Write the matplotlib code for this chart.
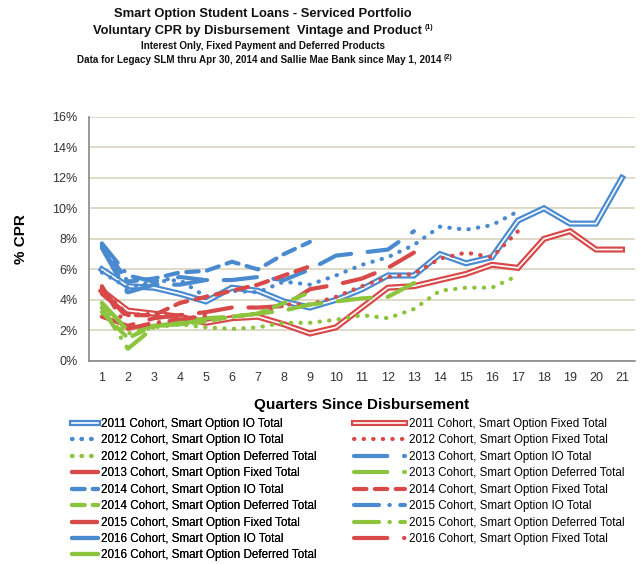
import numpy as np
import matplotlib
matplotlib.use("Agg")
import matplotlib.pyplot as plt

# quarters since disbursement
quarters = list(range(1, 22))
x_labels = [str(q) for q in quarters]

# voluntary CPR (%)
io_2011 = [6.0, 4.9, 4.8, 4.4, 3.9, 4.8, 4.6, 3.9, 3.5, 4.0, 4.7, 5.6, 5.6, 7.0, 6.4, 6.8, 9.2, 10.0, 9.0, 9.0, 12.0]
fixed_2011 = [4.6, 3.3, 3.1, 2.9, 2.5, 2.8, 2.9, 2.4, 1.8, 2.2, 3.5, 4.8, 4.9, 5.3, 5.7, 6.3, 6.1, 8.0, 8.5, 7.3, 7.3]
io_2012 = [5.8, 4.8, 5.2, 5.3, 4.2, 4.6, 4.5, 5.2, 5.0, 5.6, 6.3, 6.8, 7.6, 8.8, 8.6, 8.9, 9.8]
fixed_2012 = [4.8, 3.0, 3.1, 2.9, 2.7, 2.9, 3.1, 3.7, 3.7, 4.2, 4.9, 5.5, 5.7, 6.7, 7.1, 6.8, 8.5]
def_2012 = [3.5, 1.8, 2.2, 2.4, 2.2, 2.1, 2.2, 2.5, 2.5, 2.7, 3.0, 2.8, 3.4, 4.6, 4.8, 4.8, 5.6]
io_2013 = [7.5, 4.5, 5.0, 5.0, 5.3, 5.3, 5.5, 5.3, 6.0, 6.9, 7.1, 7.3, 8.5]
fixed_2013 = [2.9, 2.3, 2.8, 3.0, 3.2, 3.5, 3.5, 3.6, 4.7, 5.0, 5.4, 6.1, 7.1]
def_2013 = [3.8, 2.0, 2.3, 2.5, 2.8, 2.9, 3.1, 3.3, 3.7, 3.9, 4.1, 4.2, 5.1]
io_2014 = [7.6, 5.2, 5.4, 5.8, 5.9, 6.5, 6.0, 7.0, 7.8]
fixed_2014 = [4.4, 3.0, 3.0, 3.8, 4.2, 4.6, 5.0, 5.6, 6.2]
def_2014 = [3.2, 1.5, 2.3, 2.4, 2.6, 2.9, 3.1, 3.8, 4.5]
io_2015 = [7.7, 5.6, 5.2, 5.5, 5.3]
fixed_2015 = [4.9, 2.1, 2.5, 2.7, 3.0]
def_2015 = [3.5, 0.8, 2.2, 2.5, 2.5]
io_2016 = [7.4, 4.4]
fixed_2016 = [4.7, 2.8]
def_2016 = [3.8, 2.0]

BLUE = "#4a8bd0"
RED = "#d84a4a"
GREEN = "#8cc43e"

plt.rcParams['font.family'] = ['Liberation Sans', 'DejaVu Sans']
fig = plt.figure(figsize=(6.44, 5.64), dpi=100)
ax = fig.add_axes([0.138, 0.360, 0.848, 0.433])

styles = {
    2012: (0, (0.1, 2.2)),
    2013: (0, (8, 4)),
    2014: (0, (3, 2)),
    2015: (0, (6, 2.5, 0.1, 2.5)),
    2016: (0, (8, 4, 0.1, 4)),
}

handles = {}

def double_line(vals, color, key):
    xs = quarters[:len(vals)]
    a, = ax.plot(xs, vals, color=color, lw=4.4, solid_joinstyle='miter')
    b, = ax.plot(xs, vals, color='white', lw=1.2, solid_joinstyle='miter')
    handles[key] = (a, b)

def styled(vals, color, year, key):
    xs = quarters[:len(vals)]
    ln, = ax.plot(xs, vals, color=color, lw=3, linestyle=styles[year],
                  dash_capstyle='round')
    handles[key] = ln

double_line(io_2011, BLUE, "2011 Cohort, Smart Option IO Total")
double_line(fixed_2011, RED, "2011 Cohort, Smart Option Fixed Total")
styled(io_2012, BLUE, 2012, "2012 Cohort, Smart Option IO Total")
styled(fixed_2012, RED, 2012, "2012 Cohort, Smart Option Fixed Total")
styled(def_2012, GREEN, 2012, "2012 Cohort, Smart Option Deferred Total")
styled(io_2013, BLUE, 2013, "2013 Cohort, Smart Option IO Total")
styled(fixed_2013, RED, 2013, "2013 Cohort, Smart Option Fixed Total")
styled(def_2013, GREEN, 2013, "2013 Cohort, Smart Option Deferred Total")
styled(io_2014, BLUE, 2014, "2014 Cohort, Smart Option IO Total")
styled(fixed_2014, RED, 2014, "2014 Cohort, Smart Option Fixed Total")
styled(def_2014, GREEN, 2014, "2014 Cohort, Smart Option Deferred Total")
styled(io_2015, BLUE, 2015, "2015 Cohort, Smart Option IO Total")
styled(fixed_2015, RED, 2015, "2015 Cohort, Smart Option Fixed Total")
styled(def_2015, GREEN, 2015, "2015 Cohort, Smart Option Deferred Total")
styled(io_2016, BLUE, 2016, "2016 Cohort, Smart Option IO Total")
styled(fixed_2016, RED, 2016, "2016 Cohort, Smart Option Fixed Total")
styled(def_2016, GREEN, 2016, "2016 Cohort, Smart Option Deferred Total")

ax.set_xlim(0.5, 21.5)
ax.set_ylim(0, 16)
ax.set_xticks(quarters)
ax.set_xticklabels(x_labels)
ax.set_yticks(range(0, 17, 2))
ax.set_yticklabels([f"{v}%" for v in range(0, 17, 2)])
ax.tick_params(length=0, labelsize=9, colors="#333333", pad=8)
ax.grid(axis='y', color="#d9d4bd", lw=1.2)
ax.set_axisbelow(True)
for s in ['top', 'right']:
    ax.spines[s].set_visible(False)
for s in ['left', 'bottom']:
    ax.spines[s].set_color("#888888")
    ax.spines[s].set_linewidth(1.2)

ax.set_ylabel("% CPR", fontsize=11, fontweight='bold', labelpad=18)
ax.set_xlabel("Quarters Since Disbursement", fontsize=11, fontweight='bold', labelpad=10)

# titles (centred a bit left of the figure middle, like the original)
tx = 263 / 644
fig.text(tx, 0.976, "Smart Option Student Loans - Serviced Portfolio",
         ha='center', va='center', fontsize=9.4, fontweight='bold', color='#111111')
t2 = fig.text(tx - 0.008, 0.945, "Voluntary CPR by Disbursement  Vintage and Product",
              ha='center', va='center', fontsize=9.3, fontweight='bold', color='#111111')
fig.text(tx, 0.918, "Interest Only, Fixed Payment and Deferred Products",
         ha='center', va='center', fontsize=7.1, fontweight='bold', color='#111111')
t4 = fig.text(tx - 0.006, 0.893, "Data for Legacy SLM thru Apr 30, 2014 and Sallie Mae Bank since May 1, 2014",
              ha='center', va='center', fontsize=7.1, fontweight='bold', color='#111111')

# small footnote marks after lines 2 and 4
fig.canvas.draw()
r = fig.canvas.get_renderer()
for t, mark, dy in [(t2, "(1)", 0.006), (t4, "(2)", 0.005)]:
    bb = t.get_window_extent(r)
    fig.text(bb.x1 / fig.bbox.width + 0.004, t.get_position()[1] + dy, mark,
             ha='left', va='center', fontsize=5, fontweight='bold', color='#111111')

# legend in two columns, entries run row by row
names = list(handles.keys())
left = names[0::2]
right = names[1::2]
leg_kw = dict(loc='upper left', frameon=False, fontsize=8.4, handletextpad=0.3,
              labelspacing=0.38, borderaxespad=0, borderpad=0)
leg1 = fig.legend([handles[n] for n in left], left, handlelength=2.2,
                  bbox_to_anchor=(72 / 644, 1 - 418 / 564), **leg_kw)
fig.add_artist(leg1)
leg2 = fig.legend([handles[n] for n in right], right, handlelength=4.4,
                  bbox_to_anchor=(354 / 644, 1 - 418 / 564), **leg_kw)

fig.savefig("out.png", dpi=100)
